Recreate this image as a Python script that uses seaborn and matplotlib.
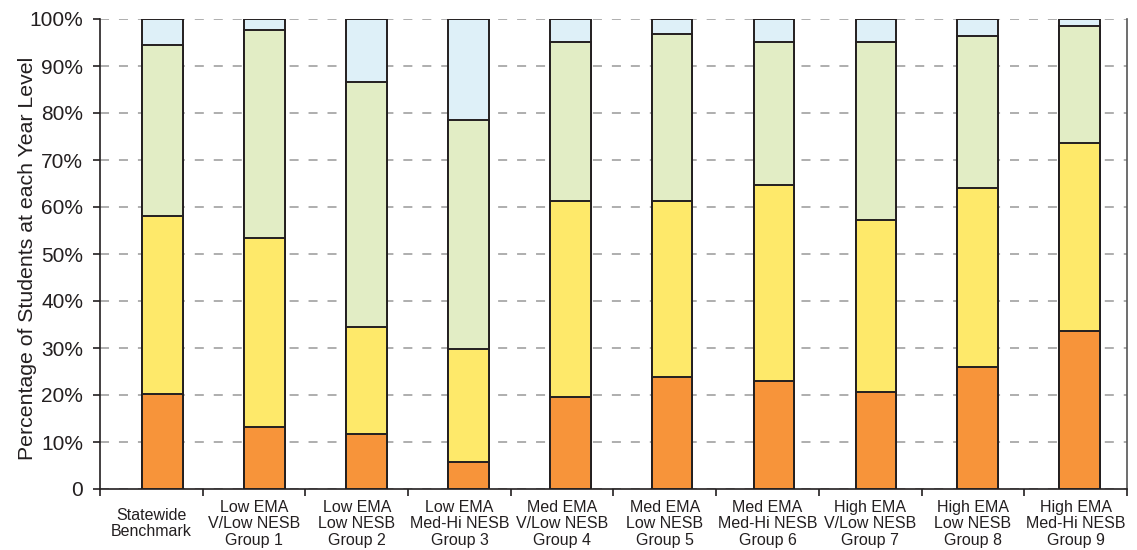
import numpy as np
import pandas as pd
import matplotlib
matplotlib.use("Agg")
import matplotlib.pyplot as plt
import seaborn as sns

categories = ["Statewide\nBenchmark",
              "Low EMA\nV/Low NESB\nGroup 1",
              "Low EMA\nLow NESB\nGroup 2",
              "Low EMA\nMed-Hi NESB\nGroup 3",
              "Med EMA\nV/Low NESB\nGroup 4",
              "Med EMA\nLow NESB\nGroup 5",
              "Med EMA\nMed-Hi NESB\nGroup 6",
              "High EMA\nV/Low NESB\nGroup 7",
              "High EMA\nLow NESB\nGroup 8",
              "High EMA\nMed-Hi NESB\nGroup 9"]
orange = [20.2, 13.2, 11.7, 5.7, 19.6, 23.8, 23.0, 20.6, 26.0, 33.6]
yellow = [37.9, 40.2, 22.8, 24.1, 41.7, 37.5, 41.7, 36.6, 38.0, 40.0]
green = [36.4, 44.3, 52.1, 48.7, 33.8, 35.5, 30.4, 37.9, 32.4, 24.9]
blue = [5.5, 2.3, 13.4, 21.5, 4.9, 3.2, 4.9, 4.9, 3.6, 1.5]
yticks = [0, 10, 20, 30, 40, 50, 60, 70, 80, 90, 100]
ytick_labels = ["0", "10%", "20%", "30%", "40%", "50%", "60%", "70%", "80%", "90%", "100%"]

colors = ["#F7943A", "#FEE96A", "#E2EDC5", "#DEF0F8"]

sns.set_style("white")
plt.rcParams['font.family'] = ['Liberation Sans', 'DejaVu Sans']

fig = plt.figure(figsize=(11.37, 5.5), dpi=100)
ax = fig.add_axes([100 / 1137, 61 / 550, 1027 / 1137, 470 / 550])

segs = np.array([orange, yellow, green, blue])
cum = np.cumsum(segs, axis=0)
df = pd.DataFrame({"cat": categories})
for level in range(3, -1, -1):
    df["v"] = cum[level]
    sns.barplot(data=df, x="cat", y="v", color=colors[level], width=0.4,
                edgecolor="#231F20", linewidth=1.4, saturation=1, ax=ax, zorder=3)

n = len(categories)
x0, x1 = -0.614, 9.464
ax.set_ylim(0, 100)
ax.set_xlim(x0, x1)
ax.set_yticks(yticks)
ax.set_yticklabels(ytick_labels, fontsize=15, color="#231F20")
ax.yaxis.grid(True, linestyle=(0, (5, 5.5)), color="#A8A8A8", linewidth=1.3, zorder=0)
ax.set_axisbelow(True)

step = (x1 - x0) / n
bounds = x0 + step * np.arange(n + 1)
ax.set_xticks(bounds[:-1] + step / 2)
ax.set_xticklabels(categories, fontsize=11.5, color="#231F20", linespacing=1.12)
for lab in ax.get_xticklabels():
    lab.set_va("center")
ax.tick_params(axis="x", which="major", length=0, pad=25)
ax.set_xticks(bounds, minor=True)
ax.tick_params(axis="x", which="minor", length=5, width=1.2, direction="out", color="#231F20", bottom=True)
ax.tick_params(axis="y", length=5, width=1.2, direction="out", color="#231F20", pad=7, left=True)

ax.set_xlabel("")
ax.set_ylabel("Percentage of Students at each Year Level", fontsize=15.3, color="#231F20")
ax.yaxis.set_label_coords(-0.0614, 0.49)

for s in ["left", "bottom", "right"]:
    ax.spines[s].set_visible(True)
    ax.spines[s].set_color("#231F20")
    ax.spines[s].set_linewidth(1.2)
ax.spines["top"].set_visible(False)
ax.spines["right"].set_color("#555555")

fig.savefig("out.png", dpi=100)
